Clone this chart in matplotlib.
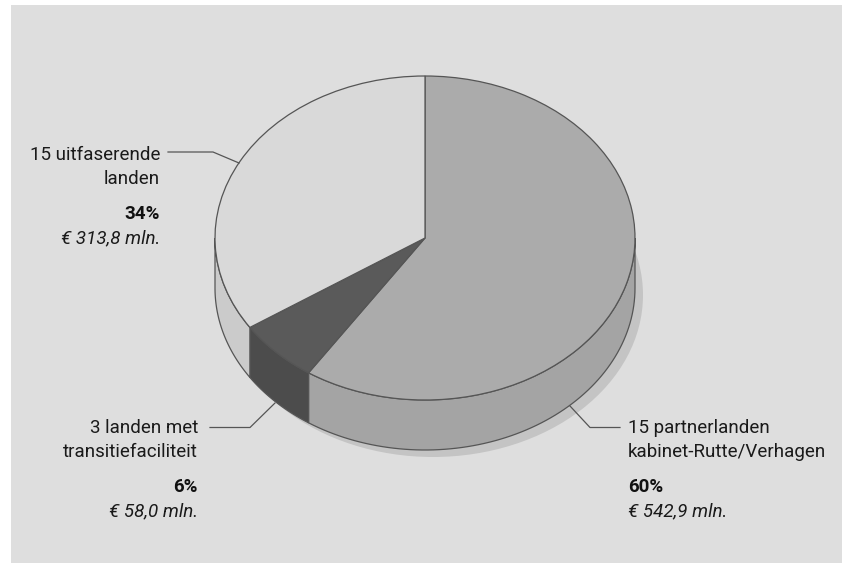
#!/usr/bin/python3

import numpy as np
import matplotlib
matplotlib.use("Agg")
import matplotlib.pyplot as plt
from matplotlib.patches import Ellipse, Polygon

labels = ['15 partnerlanden\nkabinet-Rutte/Verhagen', '3 landen met\ntransitiefaciliteit', '15 uitfaserende\nlanden']
amounts = [542.9, 58.0, 313.8]
shares = ['60%', '6%', '34%']
amount_labels = ['€ 542,9 mln.', '€ 58,0 mln.', '€ 313,8 mln.']

top_colors = ['#ababab', '#5a5a5a', '#d9d9d9']
wall_colors = ['#a4a4a4', '#4c4c4c', '#cbcbcb']
BG = '#dedede'
EDGE = '#555555'

W, H = 842, 563
CX, CY, RX, RY, DEPTH = 425, 238, 210, 162, 50
FONT = ['Roboto', 'Liberation Sans', 'DejaVu Sans']
SIZE = 13.5


def wall(a0, a1, depth):
    # side of the disc between two clockwise angles, front half only
    a0, a1 = max(a0, 90), min(a1, 270)
    if a1 <= a0:
        return None
    t = np.radians(np.linspace(a0, a1, 80))
    x, y = np.sin(t), np.cos(t)
    return np.vstack([np.column_stack([x, y]), np.column_stack([x, y - depth])[::-1]])


fig = plt.figure(figsize=(W / 100, H / 100), dpi=100, facecolor='white')

# panel, at the back
bg_ax = fig.add_axes([0, 0, 1, 1], zorder=0)
bg_ax.set_xlim(0, W)
bg_ax.set_ylim(H, 0)
bg_ax.axis('off')
bg_ax.fill_between([11, W], 5, H, color=BG, lw=0)

# pie in unit coordinates, squashed by the axis limits
pie_ax = fig.add_axes([0, 0, 1, 1], zorder=1)
pie_ax.patch.set_alpha(0)
depth = DEPTH / RY
pie_ax.add_patch(Ellipse((8 / RX, -(DEPTH + 7) / RY), 2, 2, fc='#c4c4c4', ec='none'))

edges = np.cumsum([0] + amounts) / sum(amounts) * 360
for i in range(len(amounts)):
    pts = wall(edges[i], edges[i + 1], depth)
    if pts is not None:
        pie_ax.add_patch(Polygon(pts, closed=True, fc=wall_colors[i], ec=EDGE, lw=0.9))

pie_ax.pie(amounts, colors=top_colors, startangle=90, counterclock=False,
           radius=1, wedgeprops={'edgecolor': EDGE, 'linewidth': 0.9})
pie_ax.set_aspect('auto')
pie_ax.set_xlim(-CX / RX, (W - CX) / RX)
pie_ax.set_ylim((CY - H) / RY, CY / RY)
pie_ax.axis('off')

# leader lines and text in pixel coordinates, on top
ax = fig.add_axes([0, 0, 1, 1], zorder=2)
ax.patch.set_visible(False)
ax.set_xlim(0, W)
ax.set_ylim(H, 0)
ax.axis('off')

ax.plot([168, 213, 239], [152, 152, 163], color=EDGE, lw=0.9)
ax.plot([210, 250, 275], [427.5, 427.5, 403], color=EDGE, lw=0.9)
ax.plot([620, 590, 570], [427.5, 427.5, 406], color=EDGE, lw=0.9)

# x, alignment and baseline per slice
text_pos = [(628, 'left', 433), (198, 'right', 433), (160, 'right', 160)]
for i in range(len(labels)):
    x, ha, y = text_pos[i]
    line1, line2 = labels[i].split('\n')
    ax.text(x, y, line1, ha=ha, va='baseline', family=FONT, fontsize=SIZE, color='#1a1a1a')
    ax.text(x, y + 24, line2, ha=ha, va='baseline', family=FONT, fontsize=SIZE, color='#1a1a1a')
    ax.text(x, y + 59, shares[i], ha=ha, va='baseline', family=FONT, fontsize=SIZE, weight='bold', color='#111111')
    ax.text(x, y + 83, amount_labels[i], ha=ha, va='baseline', family=FONT, fontsize=SIZE, style='italic', color='#1a1a1a')

fig.savefig('out.png', dpi=100, facecolor='white')
